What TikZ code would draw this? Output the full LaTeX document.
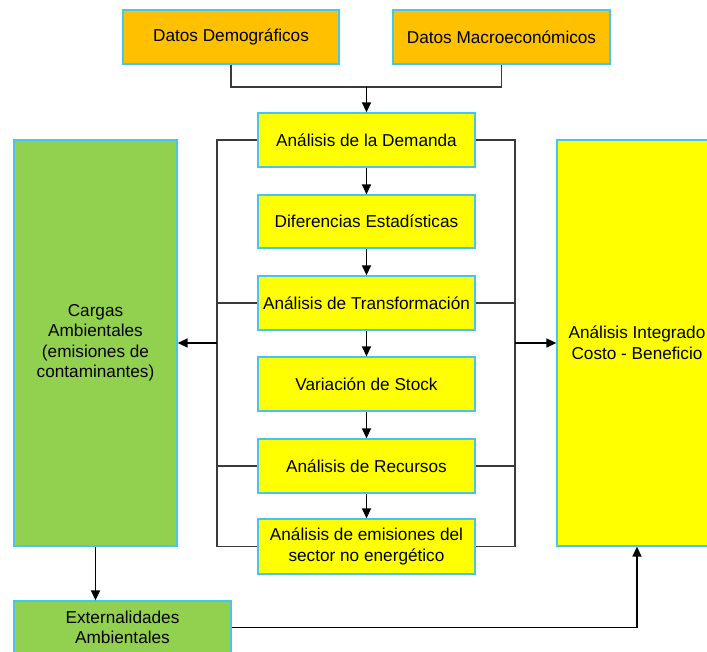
\documentclass[tikz,border=0pt]{standalone}
\usepackage{fontspec}
\setmainfont{Liberation Sans}
\usetikzlibrary{arrows.meta}
\definecolor{boxline}{HTML}{45C6EE}
\definecolor{orangefill}{HTML}{FFC000}
\definecolor{yellowfill}{HTML}{FFFF00}
\definecolor{greenfill}{HTML}{92D050}
\definecolor{linkgray}{HTML}{3A3A3A}
\begin{document}
\begin{tikzpicture}[x=1pt,y=-1pt,
  box/.style={draw=boxline, line width=1.3pt, rectangle, align=center, inner sep=2pt,
    font=\fontsize{17.2}{20.5}\selectfont, text=black},
  databox/.style={box, fill=orangefill, minimum width=216pt, minimum height=54pt},
  stagebox/.style={box, fill=yellowfill, minimum width=217pt, minimum height=54pt},
  link/.style={draw=linkgray, line width=1.5pt},
  arr/.style={draw=black, line width=1.5pt, -{Triangle[length=10pt,width=9pt]}}]
\useasboundingbox (0,0) rectangle (707,652);
\clip (0,0) rectangle (707,652);

% input data
\node[databox] (dd) at (231,37) {Datos Demográficos};
\node[databox, minimum width=217pt] (dm) at (501.5,37) {Datos Macroeconómicos};

% central chain of analyses
\node[stagebox] (dem) at (366.5,140) {Análisis de la Demanda};
\node[stagebox, minimum height=53pt] (dif) at (366.5,221.5) {Diferencias Estadísticas};
\node[stagebox] (tra) at (366.5,303) {Análisis de Transformación};
\node[stagebox] (var) at (366.5,384) {Variación de Stock};
\node[stagebox] (rec) at (366.5,466) {Análisis de Recursos};
\node[stagebox, minimum height=55pt] (emi) at (366.5,546.5) {Análisis de emisiones del\\sector no energético};

% side blocks
\node[box, fill=greenfill, minimum width=163pt, minimum height=406pt] (car) at (95.5,343)
  {Cargas\\Ambientales\\(emisiones de\\contaminantes)};
\node[box, fill=yellowfill, minimum width=160pt, minimum height=406pt] (int) at (637,343)
  {Análisis Integrado\\Costo - Beneficio};
\node[box, fill=greenfill, minimum width=217pt, minimum height=53pt] (ext) at (122.5,627.5)
  {Externalidades\\Ambientales};

% merge of the two data sources
\coordinate (join) at (366.5,87);
\draw[link] (dd.south) |- (join) -| (dm.south);
\draw[arr] (join) -- (dem.north);

% chain arrows
\draw[arr] (dem) -- (dif);
\draw[arr] (dif) -- (tra);
\draw[arr] (tra) -- (var);
\draw[arr] (var) -- (rec);
\draw[arr] (rec) -- (emi);

% left collector bus
\coordinate (lbus) at (217,343);
\draw[link] (dem.west) -| (lbus) |- (emi.west);
\draw[link] (tra.west) -- (tra.west -| lbus);
\draw[link] (rec.west) -- (rec.west -| lbus);
\draw[arr] (lbus) -- (car.east);

% right collector bus
\coordinate (rbus) at (515,343);
\draw[link] (dem.east) -| (rbus) |- (emi.east);
\draw[link] (tra.east) -- (tra.east -| rbus);
\draw[link] (rec.east) -- (rec.east -| rbus);
\draw[arr] (rbus) -- (int.west);

% externalities
\draw[arr] (car.south) -- (car.south |- ext.north);
\draw[arr] (ext.east) -| (int.south);
\end{tikzpicture}
\end{document}
